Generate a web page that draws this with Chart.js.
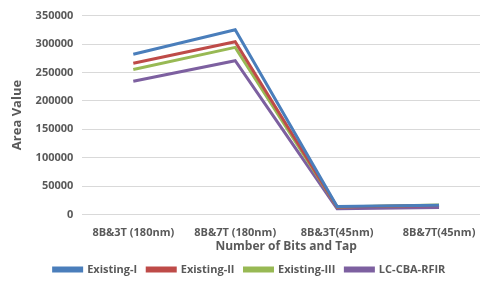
<!DOCTYPE html>
<html><head><meta charset="utf-8">
<script src="https://cdn.jsdelivr.net/npm/chart.js@4"></script>
<style>
html,body{margin:0;padding:0;background:#fff;overflow:hidden;width:480px;height:297px;}
#wrap{position:absolute;left:0;top:0;width:495px;height:297px;}
</style></head>
<body><div id="wrap"><canvas id="c" width="495" height="297"></canvas></div>
<script>
const categories = ["8B&3T (180nm)", "8B&7T (180nm)", "8B&3T(45nm)", "8B&7T(45nm)"];
const existingI   = [282000, 325000, 14000, 16000];
const existingII  = [266000, 304000, 13000, 15500];
const existingIII = [255000, 294000, 13000, 16500];
const lcCbaRfir   = [234500, 270500, 10000, 12000];
const yTicks = [0, 50000, 100000, 150000, 200000, 250000, 300000, 350000];

const gray = '#595959';
const font = {family: "'Open Sans', sans-serif", size: 11, weight: 'bold'};
function ds(label, data, color){
  return {label, data, borderColor: color, backgroundColor: color, borderWidth: 3,
    pointRadius: 0, pointHoverRadius: 0, tension: 0, fill: false};
}
new Chart(document.getElementById('c'), {
  type: 'line',
  data: {labels: categories, datasets: [
    ds('Existing-I', existingI, '#4a7ebb'),
    ds('Existing-II', existingII, '#be4b48'),
    ds('Existing-III', existingIII, '#98b954'),
    ds('LC-CBA-RFIR', lcCbaRfir, '#7d60a0')
  ]},
  options: {
    responsive: false, animation: false, devicePixelRatio: 1,
    layout: {padding: {left: 9, right: 5, top: 10, bottom: 12}},
    plugins: {
      legend: {position: 'bottom', labels: {boxWidth: 28, boxHeight: 3, color: gray, font: font, padding: 10}},
      tooltip: {enabled: false}
    },
    scales: {
      x: {offset: true,
        grid: {display: false, drawTicks: false},
        border: {display: false},
        ticks: {color: gray, font: font, maxRotation: 0, padding: 12},
        title: {display: true, text: 'Number of Bits and Tap', color: gray,
          font: {family: "'Open Sans', sans-serif", size: 12, weight: 'bold'}, padding: {top: -12, bottom: 0}}
      },
      y: {min: 0, max: 350000,
        afterBuildTicks: (s) => { s.ticks = yTicks.map(v => ({value: v})); },
        grid: {color: '#d9d9d9', lineWidth: 1, drawTicks: false},
        border: {display: false},
        ticks: {color: gray, font: font, padding: 9,
          callback: (v) => String(v)},
        title: {display: true, text: 'Area Value', color: gray,
          font: {family: "'Open Sans', sans-serif", size: 13, weight: 'bold'}, padding: {top: 0, bottom: 2}}
      }
    }
  }
});
</script></body></html>
